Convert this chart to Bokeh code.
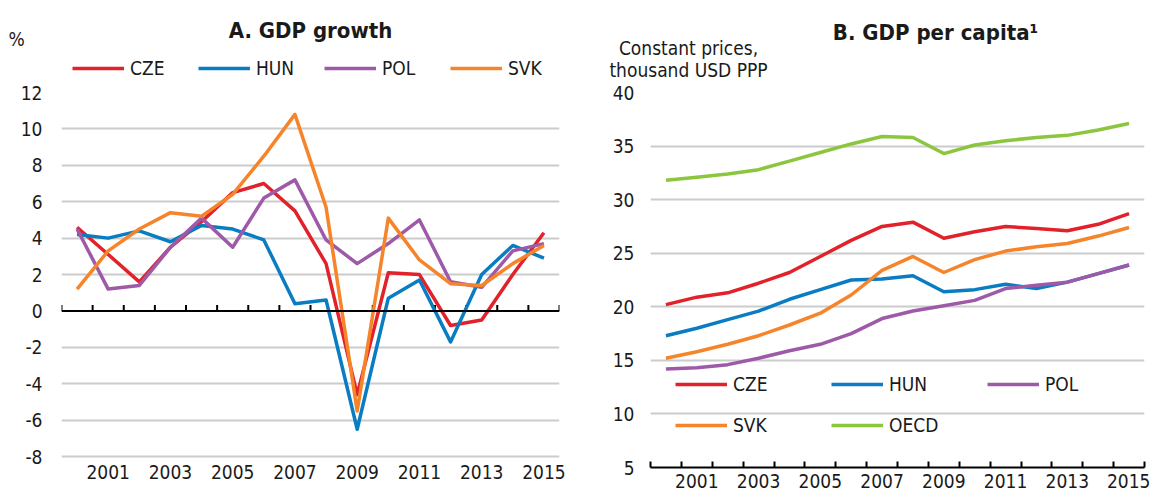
from bokeh.plotting import figure
from bokeh.layouts import row, column
from bokeh.models import Range1d, FixedTicker, Span, Legend, LegendItem, Label
from bokeh.embed import file_html
from bokeh.resources import INLINE

years = list(range(2000, 2016))
label_years = [2001, 2003, 2005, 2007, 2009, 2011, 2013, 2015]

growth_cze = [4.6, 3.1, 1.6, 3.5, 4.9, 6.5, 7.0, 5.5, 2.6, -4.6, 2.1, 2.0, -0.8, -0.5, 2.0, 4.3]
growth_hun = [4.2, 4.0, 4.4, 3.8, 4.7, 4.5, 3.9, 0.4, 0.6, -6.5, 0.7, 1.7, -1.7, 2.0, 3.6, 2.9]
growth_pol = [4.5, 1.2, 1.4, 3.5, 5.1, 3.5, 6.2, 7.2, 3.9, 2.6, 3.7, 5.0, 1.6, 1.3, 3.3, 3.7]
growth_svk = [1.2, 3.3, 4.5, 5.4, 5.2, 6.4, 8.5, 10.8, 5.7, -5.5, 5.1, 2.8, 1.5, 1.4, 2.6, 3.6]

gdppc_cze = [20.2, 20.9, 21.3, 22.2, 23.2, 24.7, 26.2, 27.5, 27.9, 26.4, 27.0, 27.5, 27.3, 27.1, 27.7, 28.7]
gdppc_hun = [17.3, 18.0, 18.8, 19.6, 20.7, 21.6, 22.5, 22.6, 22.9, 21.4, 21.6, 22.1, 21.7, 22.3, 23.1, 23.9]
gdppc_pol = [14.2, 14.3, 14.6, 15.2, 15.9, 16.5, 17.5, 18.9, 19.6, 20.1, 20.6, 21.7, 22.0, 22.3, 23.1, 23.9]
gdppc_svk = [15.2, 15.8, 16.5, 17.3, 18.3, 19.4, 21.1, 23.4, 24.7, 23.2, 24.4, 25.2, 25.6, 25.9, 26.6, 27.4]
gdppc_oecd = [31.8, 32.1, 32.4, 32.8, 33.6, 34.4, 35.2, 35.9, 35.8, 34.3, 35.1, 35.5, 35.8, 36.0, 36.5, 37.1]

growth_ticks = [-8, -6, -4, -2, 0, 2, 4, 6, 8, 10, 12]
gdppc_ticks = [5, 10, 15, 20, 25, 30, 35, 40]

COL = {"CZE": "#E2222A", "HUN": "#0A7DC2", "POL": "#9E5AA8", "SVK": "#F5842A", "OECD": "#8CC63F"}
FONT = "'Liberation Sans Narrow', 'Arial Narrow', 'DejaVu Sans Condensed', sans-serif"
TXT = "#1a1a1a"
GRID = "#cccccc"
LW = 3.5
FS = "19px"

bounds = [y - 0.5 for y in years] + [years[-1] + 0.5]


def style_axes(p, yticks, grid_ticks, ystandoff):
    p.outline_line_color = None
    p.xgrid.grid_line_color = None
    p.ygrid.ticker = FixedTicker(ticks=grid_ticks)
    p.ygrid.grid_line_color = GRID
    p.ygrid.grid_line_width = 2
    ya = p.yaxis[0]
    ya.ticker = FixedTicker(ticks=yticks)
    ya.major_label_overrides = {t: str(t) for t in yticks}
    ya.axis_line_color = None
    ya.major_tick_line_color = None
    ya.minor_tick_line_color = None
    ya.major_tick_out = 0
    ya.major_tick_in = 0
    ya.minor_tick_out = 0
    ya.minor_tick_in = 0
    ya.major_label_standoff = ystandoff
    ya.major_label_text_font = FONT
    ya.major_label_text_font_size = FS
    ya.major_label_text_color = TXT
    xa = p.xaxis[0]
    xa.major_label_text_font = FONT
    xa.major_label_text_font_size = FS
    xa.major_label_text_color = TXT


def text(p, x, y, s, size=FS, bold=False):
    p.add_layout(Label(x=x, y=y, text=s, text_align="center", text_baseline="middle",
                       text_font=FONT, text_font_size=size,
                       text_font_style="bold" if bold else "normal", text_color=TXT))


W, HEAD_H = 1150, 80

# ---------------- Header (titles, units, legend of panel A) ----------------
hdr = figure(width=W, height=HEAD_H, output_backend="svg", toolbar_location=None,
             x_range=Range1d(0, W), y_range=Range1d(HEAD_H, 0),
             x_axis_type=None, y_axis_type=None,
             min_border_left=0, min_border_right=0, min_border_top=0, min_border_bottom=0)
hdr.outline_line_color = None
hdr.grid.visible = False
text(hdr, 310, 30, "A. GDP growth", "22px", True)
text(hdr, 16, 38, "%")
text(hdr, 935, 32, "B. GDP per capita\u00b9", "22px", True)
text(hdr, 688, 47, "Constant prices,")
text(hdr, 688, 69, "thousand USD PPP")

namesA = ["CZE", "HUN", "POL", "SVK"]
keyA = {n: hdr.line(x=[-50], y=[-50], line_color=COL[n], line_width=LW) for n in namesA}
legA = Legend(items=[LegendItem(label=n, renderers=[keyA[n]]) for n in namesA],
             orientation="horizontal", location=(72, 0),
             glyph_width=52, glyph_height=24, label_height=24, label_width=60,
             label_standoff=6, spacing=8, padding=0, margin=0,
             border_line_color=None, background_fill_alpha=0,
             label_text_font=FONT, label_text_font_size=FS, label_text_color=TXT)
hdr.add_layout(legA, "center")

# ---------------- Panel A ----------------
# frame bottom shared with panel B (row aligns frames); range runs a little below -8
pA = figure(width=580, height=414, output_backend="svg", toolbar_location=None,
            x_range=Range1d(1999.5, 2015.5), y_range=Range1d(-8.6, 12),
            min_border_left=61, min_border_right=21, min_border_top=12, min_border_bottom=27)
style_axes(pA, growth_ticks, [t for t in growth_ticks if t != 0], 19)
xa = pA.xaxis[0]
xa.ticker = FixedTicker(ticks=label_years)
xa.axis_line_color = None
xa.major_tick_line_color = None
xa.minor_tick_line_color = None
xa.major_tick_out = 0
xa.major_tick_in = 0
xa.minor_tick_out = 0
xa.minor_tick_in = 0
xa.major_label_standoff = -3

pA.add_layout(Span(location=0, dimension="width", line_color="black", line_width=2))
pA.segment(x0=bounds, y0=[0] * len(bounds), x1=bounds, y1=[0.33] * len(bounds),
           line_color="black", line_width=2)

for name, vals in [("CZE", growth_cze), ("HUN", growth_hun), ("POL", growth_pol), ("SVK", growth_svk)]:
    pA.line(years, vals, line_color=COL[name], line_width=LW, line_join="round")

# ---------------- Panel B ----------------
pB = figure(width=570, height=414, output_backend="svg", toolbar_location=None,
            x_range=Range1d(1999.5, 2015.5), y_range=Range1d(5, 40),
            min_border_left=70, min_border_right=6, min_border_top=12, min_border_bottom=27)
style_axes(pB, gdppc_ticks, [t for t in gdppc_ticks if t != 5], 16)
xb = pB.xaxis[0]
xb.ticker = FixedTicker(ticks=label_years, minor_ticks=bounds)
xb.axis_line_color = "black"
xb.axis_line_width = 2
xb.major_tick_line_color = None
xb.major_tick_out = 0
xb.major_tick_in = 0
xb.minor_tick_line_color = "black"
xb.minor_tick_line_width = 2
xb.minor_tick_in = 6
xb.minor_tick_out = 0
xb.major_label_standoff = 6

rB = {}
for name, vals in [("CZE", gdppc_cze), ("HUN", gdppc_hun), ("POL", gdppc_pol),
                   ("SVK", gdppc_svk), ("OECD", gdppc_oecd)]:
    rB[name] = pB.line(years, vals, line_color=COL[name], line_width=LW, line_join="round")

legB = Legend(items=[LegendItem(label=n, renderers=[rB[n]]) for n in ["CZE", "HUN", "POL", "SVK", "OECD"]],
             orientation="horizontal", ncols=3, location=(25, 30),
             glyph_width=52, glyph_height=24, label_height=24, label_width=81,
             label_standoff=6, spacing=17, padding=0, margin=0,
             border_line_color=None, background_fill_alpha=0,
             label_text_font=FONT, label_text_font_size=FS, label_text_color=TXT)
pB.add_layout(legB, "center")

layout = column(hdr, row(pA, pB))
open("out.html", "w").write(file_html(layout, INLINE))
